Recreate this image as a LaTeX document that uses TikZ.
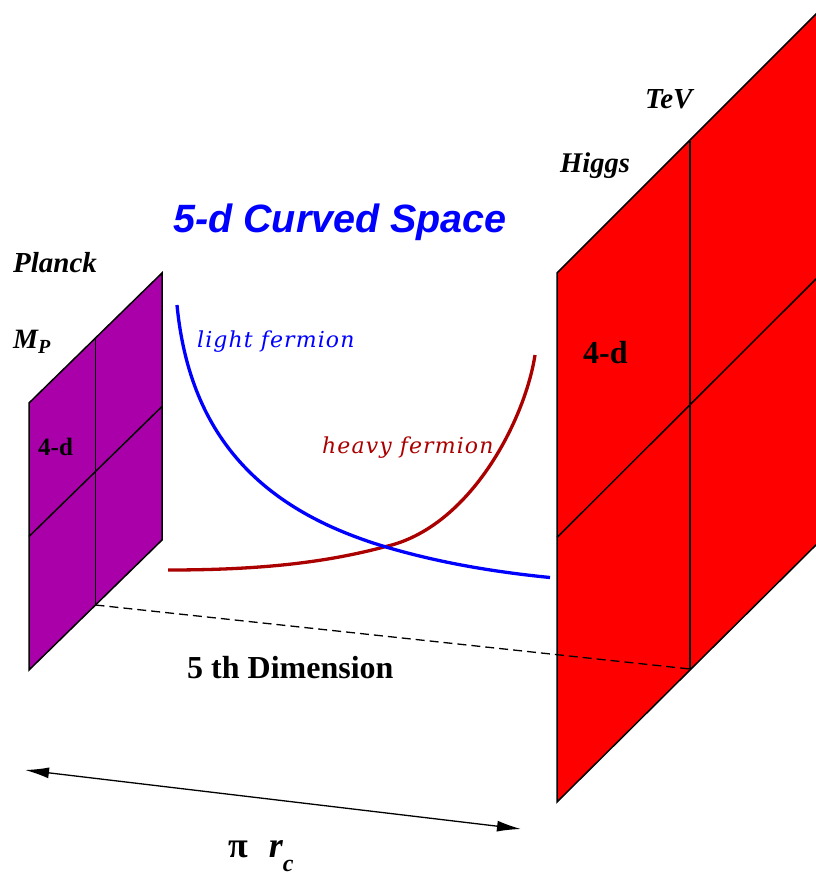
\documentclass[tikz,border=0pt]{standalone}
\usepackage{fontspec}
\setmainfont{Liberation Serif}
\newfontfamily\headfont{Liberation Sans}
\newfontfamily\fermfont{DejaVu Serif}[LetterSpace=5]
\usetikzlibrary{arrows.meta}
\definecolor{plum}{RGB}{170,0,170}
\definecolor{brane}{RGB}{255,0,0}
\definecolor{lightc}{RGB}{0,0,255}
\definecolor{heavyc}{RGB}{170,0,0}
\begin{document}
\begin{tikzpicture}[x=1pt,y=-1pt,
  edge/.style={line width=1.5pt, line join=miter},
  lbl/.style={inner sep=0pt, anchor=base west},
  fcurve/.style={line width=3.3pt, line cap=butt}]
\useasboundingbox (0,0) rectangle (816,878);
% left (Planck) brane
\coordinate (lBL) at (29,670);
\coordinate (lBR) at (162,540);
\coordinate (lTR) at (162,273);
\coordinate (lTL) at (29,403);
\coordinate (lmt) at (95.5,338);
\coordinate (lmb) at (95.5,605);
\coordinate (lml) at (29,536.5);
\coordinate (lmr) at (162,406.5);
\filldraw[fill=plum, edge] (lBL) -- (lBR) -- (lTR) -- (lTL) -- cycle;
\draw[edge] (lmt) -- (lmb);
\draw[edge] (lml) -- (lmr);
% right (TeV) brane
\coordinate (rBL) at (557,802);
\coordinate (rBR) at (823,538);
\coordinate (rTR) at (823,7);
\coordinate (rTL) at (557,273);
\coordinate (rmt) at (690,141);
\coordinate (rmb) at (690,669);
\coordinate (rml) at (557,537.5);
\coordinate (rmr) at (823,272);
\begin{scope}
\clip (0,0) rectangle (816,878);
\filldraw[fill=brane, edge] (rBL) -- (rBR) -- (rTR) -- (rTL) -- cycle;
\draw[edge] (rmt) -- (rmb);
\draw[edge] (rml) -- (rmr);
\end{scope}
% fifth dimension dashed
\draw[line width=1.3pt, dash pattern=on 9pt off 5pt] (lmb) -- (rmb);
% fermion profiles
\coordinate (hs) at (168,570);
\coordinate (cross) at (385,546.7);
\coordinate (he) at (535,355);
\coordinate (ls) at (177,305);
\coordinate (le) at (550,577.5);
\draw[heavyc, fcurve] (hs) .. controls (260,570) and (325,562.7) .. (cross)
   .. controls (470,528) and (525,420) .. (he);
\draw[lightc, fcurve] (ls) .. controls (190,440) and (265,510.7) .. (cross)
   .. controls (440,563) and (495,572) .. (le);
% arrow
\coordinate (al) at (25,770);
\coordinate (ar) at (521,829);
\draw[{Latex[length=24pt,width=11pt]}-{Latex[length=24pt,width=11pt]}, line width=1.3pt] (al) -- (ar);
% labels
\node[lbl, text=lightc] (title) at (173,232) {\headfont\fontsize{39.5}{39.5}\selectfont\bfseries\itshape 5-d Curved Space};
\node[lbl, text=lightc] (lf) at (197,347) {\fermfont\fontsize{22}{22}\selectfont\itshape light fermion};
\node[lbl, text=heavyc] (hf) at (322,453) {\fermfont\fontsize{22}{22}\selectfont\itshape heavy fermion};
\node[lbl] (planck) at (13,272) {\fontsize{29}{29}\selectfont\bfseries\itshape Planck};
\node[lbl] (mp) at (13,348) {\fontsize{28}{28}\selectfont\bfseries\itshape M\raisebox{-5pt}{\fontsize{20}{20}\selectfont P}};
\node[lbl] (tev) at (645,108) {\fontsize{29}{29}\selectfont\bfseries\itshape TeV};
\node[lbl] (higgs) at (560,172) {\fontsize{28.5}{28.5}\selectfont\bfseries\itshape Higgs};
\node[lbl] (l4d) at (38,455) {\fontsize{25}{25}\selectfont\bfseries 4-d};
\node[lbl] (r4d) at (583,363) {\fontsize{32}{32}\selectfont\bfseries 4-d};
\node[lbl] (dim) at (187,678) {\fontsize{32}{32}\selectfont\bfseries 5 th Dimension};
\node[lbl] (pirc) at (228,857) {\fontsize{36}{36}\selectfont\bfseries π\hspace{21pt}\itshape r\raisebox{-14pt}{\fontsize{24}{24}\selectfont c}};
\end{tikzpicture}
\end{document}
